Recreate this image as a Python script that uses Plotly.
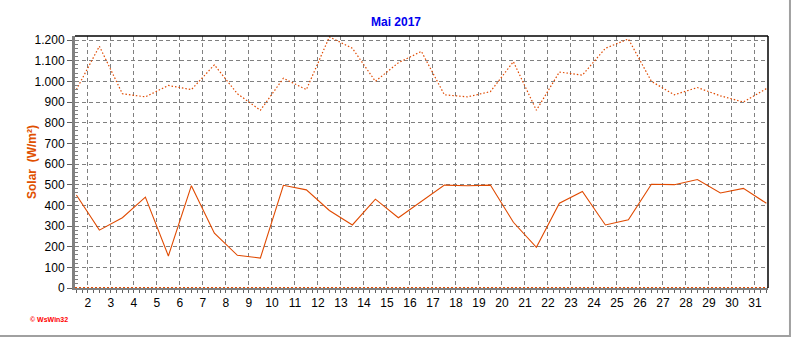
import plotly.graph_objects as go

days = [d + 0.5 for d in range(1, 32)]
solar_max = [960, 1170, 940, 925, 980, 960, 1080, 940, 860, 1015,
             960, 1215, 1160, 1000, 1090, 1145, 935, 925, 950, 1095,
             860, 1045, 1030, 1160, 1205, 1000, 935, 970, 930, 900, 965]
solar_avg = [450, 280, 340, 440, 155, 495, 265, 158, 145, 497,
             475, 375, 305, 430, 340, 420, 498, 495, 498, 318,
             197, 410, 467, 305, 330, 502, 500, 525, 460, 482, 410]
x_ticks = list(range(2, 32))
y_ticks = list(range(0, 1201, 100))

LINE = "#E04A00"
FONT = "Liberation Sans, Arial, sans-serif"

fig = go.Figure()
fig.add_trace(go.Scatter(x=days, y=solar_max, mode="lines",
                         line=dict(color=LINE, width=1.2, dash="1.5px,2px"),
                         hoverinfo="skip", showlegend=False))
fig.add_trace(go.Scatter(x=days, y=solar_avg, mode="lines",
                         line=dict(color=LINE, width=1.1),
                         hoverinfo="skip", showlegend=False))

shapes = [
    dict(type="line", xref="paper", yref="y", x0=0, x1=1, y0=0, y1=0,
         line=dict(color=LINE, width=2, dash="2px,2px"), layer="above"),
    dict(type="line", xref="paper", yref="paper", x0=0, x1=1, y0=1, y1=1,
         line=dict(color="black", width=1.5)),
    dict(type="line", xref="paper", yref="paper", x0=1, x1=1, y0=0, y1=1,
         line=dict(color="black", width=1.5)),
    dict(type="line", xref="paper", yref="paper", x0=1.0317, x1=1.0317, y0=-0.2, y1=1.15,
         line=dict(color="#A0A0A0", width=2)),
    dict(type="line", xref="paper", yref="paper", x0=-0.12, x1=1.0317, y0=-0.1905, y1=-0.1905,
         line=dict(color="#A0A0A0", width=2)),
]

fig.update_layout(
    width=792, height=337,
    margin=dict(l=75, r=24, t=36, b=49),
    paper_bgcolor="white", plot_bgcolor="white",
    separators=",.",
    font=dict(family=FONT, size=12, color="black"),
    title=dict(text="<b>Mai 2017</b>", x=0.5, xref="container", xanchor="center",
               y=1 - 21.5 / 337, yref="container", yanchor="middle",
               font=dict(family=FONT, size=12, color="#0000F0")),
    xaxis=dict(range=[1.44, 31.57], tickmode="array", tickvals=x_ticks,
               ticktext=[str(v) for v in x_ticks],
               ticks="outside", ticklen=3, tickcolor="#606060",
               showgrid=True, gridcolor="#808080", gridwidth=1, griddash="4px,3px",
               showline=True, linecolor="#808080", linewidth=2,
               zeroline=False, tickfont=dict(size=12),
               minor=dict(dtick=0.25, tick0=0, ticks="outside", ticklen=3,
                          tickcolor="#606060", showgrid=False)),
    yaxis=dict(range=[0, 1219.4], tickmode="array", tickvals=y_ticks,
               ticks="outside", ticklen=5, tickcolor="#606060",
               tickformat=",d",
               showgrid=True, gridcolor="#808080", gridwidth=1, griddash="4px,3px",
               showline=True, linecolor="#808080", linewidth=3,
               zeroline=False, tickfont=dict(size=12),
               minor=dict(dtick=20, tick0=0, ticks="inside", ticklen=3,
                          tickcolor="#808080", showgrid=False)),
    shapes=shapes,
    annotations=[
        dict(text="<b>Solar  (W/m²)</b>", xref="paper", yref="paper",
             x=-0.062, y=0.5, xanchor="center", yanchor="middle",
             textangle=-90, showarrow=False,
             font=dict(family=FONT, size=12, color="#E05000")),
        dict(text="<b>© WsWin32</b>", xref="paper", yref="paper",
             x=(28 - 75) / 693, y=(288 - 319) / 252, xanchor="left", yanchor="middle",
             showarrow=False, font=dict(family=FONT, size=7, color="#FF0000")),
    ],
)

fig.write_html("out.html")
